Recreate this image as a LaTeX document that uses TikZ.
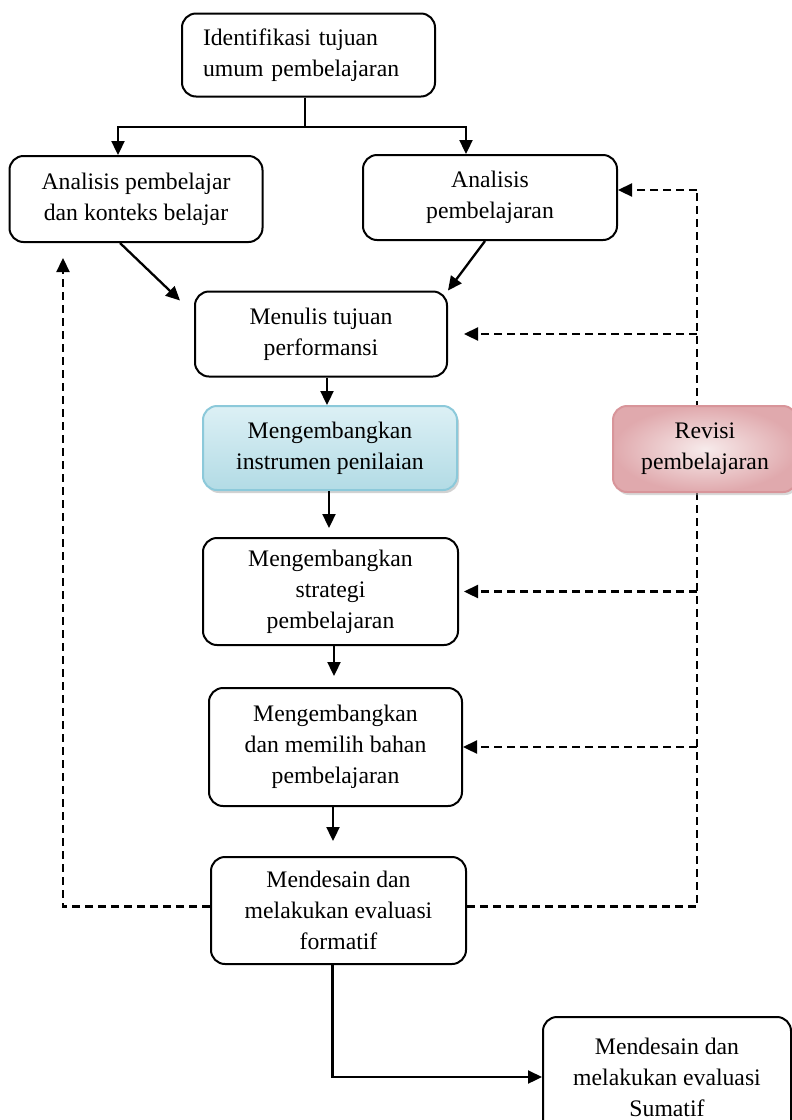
\documentclass[tikz,border=0pt]{standalone}
\usepackage{fontspec}
\setmainfont{Liberation Serif}
\usetikzlibrary{arrows.meta}
\usetikzlibrary{calc}
\usetikzlibrary{shadows}
\definecolor{instfill}{HTML}{DCF0F5}
\definecolor{instfilldark}{HTML}{B2DBE5}
\definecolor{instline}{HTML}{8CC9DA}
\definecolor{revfill}{HTML}{F7EBEB}
\definecolor{revfilldark}{HTML}{E0A9AD}
\definecolor{revline}{HTML}{D8959A}
\tikzset{box/.style={draw, line width=2pt, rounded corners=14pt, minimum width=253pt, minimum height=86pt, inner sep=0pt, align=center, font=\fontsize{23.7}{31}\selectfont}}
\tikzset{arrow/.style={-{Triangle[length=14pt,width=13pt]}, line width=2.3pt}}
\tikzset{fb/.style={line width=2.3pt, dash pattern=on 8pt off 5pt}}
\tikzset{fbarrow/.style={fb, -{Triangle[length=14pt,width=13pt]}}}

\begin{document}
\begin{tikzpicture}[x=1pt, y=-1pt]
    \useasboundingbox (0,0) rectangle (792,1120);
    \node[box, minimum height=83pt, text width=211pt, align=left] (ident) at (308.5,55) {Identifikasi tujuan\\umum pembelajaran};
    \node[box] (anpel) at (136,199) {Analisis pembelajar\\dan konteks belajar};
    \node[box, minimum width=254pt, minimum height=85pt] (anpem) at (490,197.5) {Analisis\\pembelajaran};
    \node[box, minimum width=252pt, minimum height=85pt] (menulis) at (321,334) {Menulis tujuan\\performansi};
    \node[box, minimum width=254pt, minimum height=84pt, draw=instline, top color=instfill, bottom color=instfilldark,
      drop shadow={shadow xshift=2pt, shadow yshift=-3pt, fill=black!35}] (instrumen) at (330,448) {Mengembangkan\\instrumen penilaian};
    \node[box, minimum width=255pt, minimum height=107pt] (strategi) at (330.5,591.5) {Mengembangkan\\strategi\\pembelajaran};
    \node[box, minimum height=118pt] (memilih) at (335.5,747) {Mengembangkan\\dan memilih bahan\\pembelajaran};
    \node[box, minimum width=255pt, minimum height=107pt] (formatif) at (338.5,910.5) {Mendesain dan\\melakukan evaluasi\\formatif};
    \node[box, minimum width=248pt, minimum height=120pt] (sumatif) at (667,1077) {Mendesain dan\\melakukan evaluasi\\Sumatif};
    % alur utama
    \coordinate (split) at (305,127);
    \draw[line width=2.3pt] (ident.south -| split) -- (split);
    \draw[arrow] (split) -| ($(anpel.north)+(-18,0)$);
    \draw[arrow] (split) -| ($(anpem.north)+(-24,0)$);
    \draw[arrow] ($(anpel.south)+(-16,0)$) -- ($(menulis.north west)+(-14,10)$);
    \draw[arrow] ($(anpem.south)+(-5,0)$) -- (menulis.north east);
    \draw[arrow] ($(menulis.south)+(6,0)$) -- ($(instrumen.north)+(-3,0)$);
    \draw[arrow] ($(instrumen.south)+(-1,0)$) -- ($(strategi.north)+(-1.5,-9)$);
    \draw[arrow] ($(strategi.south)+(3.5,0)$) -- ($(memilih.north)+(-1.5,-11)$);
    \draw[arrow] ($(memilih.south)+(-2.5,0)$) -- ($(formatif.north)+(-5.5,-15)$);
    \draw[arrow] ($(formatif.south)+(-6,0)$) |- (sumatif.west);
    % umpan balik revisi
    \coordinate (rtop) at (697,190);
    \coordinate (ltop) at (63,258);
    \draw[fb] ($(formatif.east)+(0,-4)$) -| (rtop);
    \draw[fbarrow] (rtop) -- (anpem.east |- rtop);
    \draw[fbarrow] (menulis.east -| rtop) -- ($(menulis.east)+(16,0)$);
    \draw[fbarrow] (strategi.east -| rtop) -- ($(strategi.east)+(5,0)$);
    \draw[fbarrow] (memilih.east -| rtop) -- (memilih.east);
    \draw[fbarrow] ($(formatif.west)+(0,-4)$) -| (ltop);
    \node[box, minimum width=184pt, minimum height=86pt, draw=revline, inner color=revfill, outer color=revfilldark,
      drop shadow={shadow xshift=2pt, shadow yshift=-3pt, fill=black!30}] (revisi) at (705,449) {Revisi\\pembelajaran};
\end{tikzpicture}
\end{document}
